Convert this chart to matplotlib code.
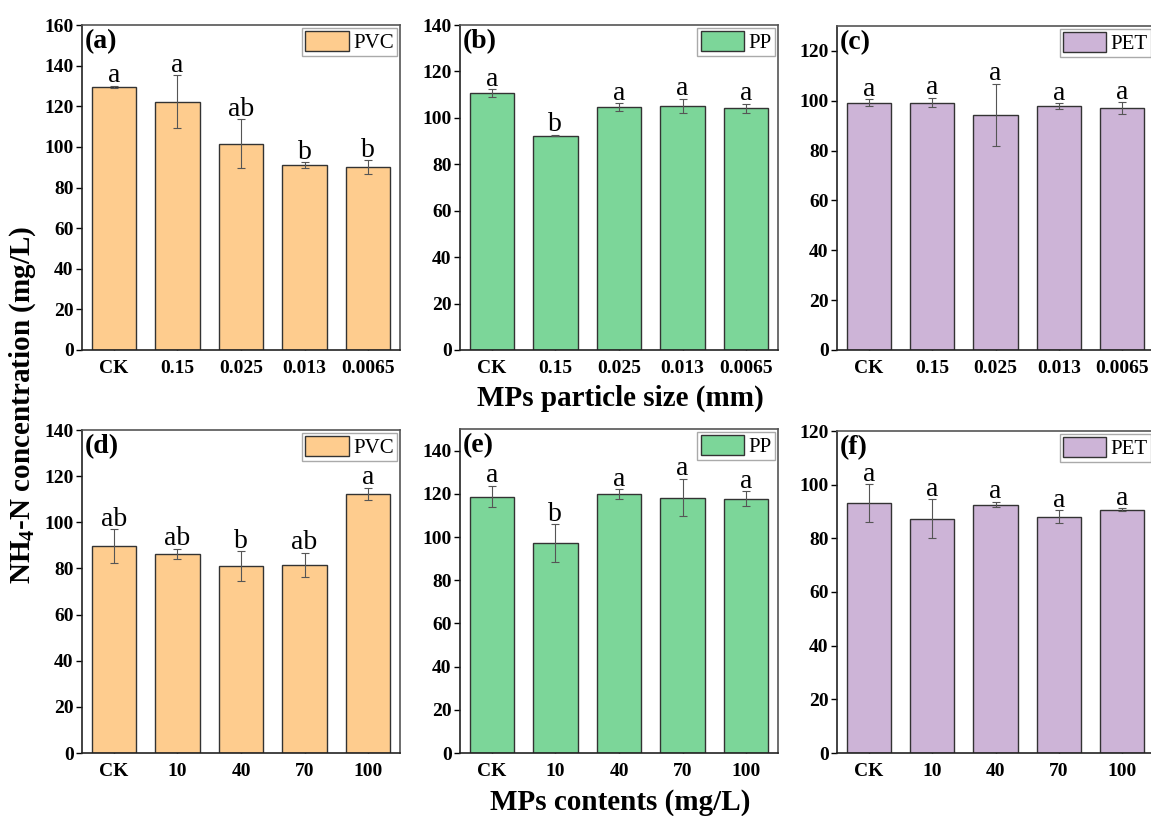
import numpy as np
import matplotlib
matplotlib.use('Agg')
import matplotlib.pyplot as plt

plt.rcParams['font.family'] = ['Liberation Serif', 'DejaVu Serif']
plt.rcParams['mathtext.default'] = 'regular'

# ---- data ----
size_labels = ['CK', '0.15', '0.025', '0.013', '0.0065']
dose_labels = ['CK', '10', '40', '70', '100']

pvc_size     = [129.5, 122.3, 101.5, 90.9, 90.0]
pvc_size_err = [0.5, 13.0, 12.0, 1.5, 3.5]
pvc_size_sig = ['a', 'a', 'ab', 'b', 'b']

pp_size      = [110.7, 92.4, 104.7, 105.2, 104.1]
pp_size_err  = [1.7, 0.3, 1.7, 3.0, 1.9]
pp_size_sig  = ['a', 'b', 'a', 'a', 'a']

pet_size     = [99.3, 99.3, 94.3, 97.9, 97.0]
pet_size_err = [1.4, 2.0, 12.6, 1.2, 2.5]
pet_size_sig = ['a', 'a', 'a', 'a', 'a']

pvc_dose     = [89.6, 86.4, 81.0, 81.4, 112.3]
pvc_dose_err = [7.3, 2.2, 6.4, 5.3, 2.7]
pvc_dose_sig = ['ab', 'ab', 'b', 'ab', 'a']

pp_dose      = [118.7, 97.0, 119.7, 118.2, 117.8]
pp_dose_err  = [5.0, 8.8, 2.3, 8.7, 3.4]
pp_dose_sig  = ['a', 'b', 'a', 'a', 'a']

pet_dose     = [93.2, 87.3, 92.6, 88.0, 90.7]
pet_dose_err = [7.0, 7.3, 1.1, 2.4, 0.6]
pet_dose_sig = ['a', 'a', 'a', 'a', 'a']

c_pvc = '#FECC8E'
c_pp = '#7CD699'
c_pet = '#CDB4D7'

W, H = 1151, 816
fig = plt.figure(figsize=(W / 100, H / 100), dpi=100)


def box(l, r, t, b):
    return [l / W, 1 - b / H, (r - l) / W, (b - t) / H]


def panel(rect, labels, vals, errs, sig, color, name, tag, ymax):
    ax = fig.add_axes(rect)
    x = np.arange(len(vals))
    ax.bar(x, vals, width=0.7, color=color, edgecolor='#333333', linewidth=1.0,
           label=name, zorder=2)
    ax.errorbar(x, vals, yerr=errs, fmt='none', ecolor='#555555', elinewidth=0.8,
                capsize=3, capthick=0.8, zorder=3)
    for xi, v, e, s in zip(x, vals, errs, sig):
        ax.annotate(s, (xi, v + e), xytext=(0, 2.5), textcoords='offset points',
                    ha='center', va='baseline', fontsize=20)
    ax.set_xlim(-0.5, len(vals) - 0.5)
    ax.set_ylim(0, ymax)
    ax.set_yticks(np.arange(0, ymax + 1, 20))
    ax.set_xticks(x)
    ax.set_xticklabels(labels)
    ax.tick_params(axis='x', direction='in', length=4, width=1, labelsize=14, pad=7)
    ax.tick_params(axis='y', direction='out', length=4, width=1, labelsize=14, pad=2)
    for lab in ax.get_xticklabels() + ax.get_yticklabels():
        lab.set_fontweight('bold')
    for sp in ['left', 'bottom']:
        ax.spines[sp].set_color('#222222')
        ax.spines[sp].set_linewidth(1.2)
    for sp in ['top', 'right']:
        ax.spines[sp].set_color('#555555')
        ax.spines[sp].set_linewidth(1.2)
    ax.text(0.01, 0.988, tag, transform=ax.transAxes, ha='left', va='top',
            fontsize=20, fontweight='bold')
    leg = ax.legend(loc='upper right', fontsize=15, fancybox=False, framealpha=1,
                    edgecolor='#aaaaaa', handlelength=2.1, handleheight=1.05,
                    handletextpad=0.2, borderpad=0.15, borderaxespad=0.15)
    leg.get_frame().set_linewidth(1.0)
    return ax


panel(box(82, 400, 25, 350), size_labels, pvc_size, pvc_size_err, pvc_size_sig,
      c_pvc, 'PVC', '(a)', 160)
panel(box(460, 778, 25, 350), size_labels, pp_size, pp_size_err, pp_size_sig,
      c_pp, 'PP', '(b)', 140)
panel(box(837, 1154, 26, 350), size_labels, pet_size, pet_size_err, pet_size_sig,
      c_pet, 'PET', '(c)', 130)
panel(box(82, 400, 430, 753), dose_labels, pvc_dose, pvc_dose_err, pvc_dose_sig,
      c_pvc, 'PVC', '(d)', 140)
panel(box(460, 778, 429, 753), dose_labels, pp_dose, pp_dose_err, pp_dose_sig,
      c_pp, 'PP', '(e)', 150)
panel(box(837, 1154, 431, 753), dose_labels, pet_dose, pet_dose_err, pet_dose_sig,
      c_pet, 'PET', '(f)', 120)

fig.text(23 / W, 1 - 405 / H, r'NH$_4$-N concentration (mg/L)', rotation=90,
         ha='center', va='center', fontsize=21, fontweight='bold')
fig.text(620 / W, 1 - 398 / H, 'MPs particle size (mm)', ha='center', va='center',
         fontsize=21, fontweight='bold')
fig.text(620 / W, 1 - 803 / H, 'MPs contents (mg/L)', ha='center', va='center',
         fontsize=21, fontweight='bold')

fig.savefig('out.png', dpi=100, facecolor='white')
